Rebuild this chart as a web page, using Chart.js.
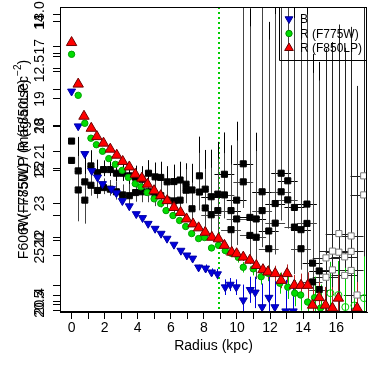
<!DOCTYPE html>
<html>
<head>
<meta charset="utf-8">
<script src="https://cdn.jsdelivr.net/npm/chart.js@4.4.0/dist/chart.umd.min.js"></script>
<style>
  html, body { margin: 0; padding: 0; background: #fff; }
</style>
</head>
<body>
<canvas id="chart" width="374" height="374"></canvas>
<script>
// ---- data (radius in kpc, surface brightness in mag) ----
const blueR = [0.00,0.40,0.80,1.22,1.57,1.87,2.41,2.71,3.07,3.49,3.91,4.29,4.63,5.05,5.41,5.77,6.19,6.61,6.97,7.32,7.68,8.10,8.46,8.82,9.29,9.59,9.96,10.38,10.80,11.10,11.52,11.93,12.29,12.95,13.40];
const blueMag = [18.71,20.04,21.10,21.75,22.00,22.25,22.44,22.60,22.90,23.10,23.40,23.55,23.77,23.96,24.15,24.34,24.57,24.80,24.98,25.10,25.44,25.48,25.63,25.70,26.20,26.10,26.20,26.70,26.30,26.40,26.96,26.60,26.96,27.12,27.12];
const blueErr = [0.05,0.05,0.05,0.05,0.05,0.05,0.05,0.05,0.05,0.05,0.05,0.05,0.05,0.05,0.05,0.05,0.05,0.05,0.05,0.05,0.1,0.15,0.15,0.2,0.3,0.25,0.3,0.6,0.5,0.6,0.9,0.8,1.0,1.2,1.2];

const greenR = [0.00,0.40,0.80,1.17,1.50,1.87,2.25,2.65,3.06,3.43,3.85,4.19,4.57,4.99,5.39,5.71,6.13,6.53,6.90,7.26,7.68,8.04,8.46,8.88,9.29,9.65,10.08,10.38,10.98,11.46,11.88,12.59,13.07,13.49,13.85,14.27,14.69,15.05];
const greenMag = [17.29,18.86,19.93,20.50,20.75,21.00,21.28,21.50,21.73,22.00,22.24,22.36,22.58,22.82,23.00,23.27,23.46,23.65,23.88,24.15,24.34,24.30,24.70,24.60,24.80,24.90,25.06,25.44,25.50,25.80,25.67,26.05,26.20,26.43,26.50,26.77,26.60,27.00];
const greenErr = [0.04,0.04,0.04,0.04,0.04,0.04,0.04,0.04,0.04,0.04,0.04,0.04,0.04,0.04,0.04,0.04,0.04,0.04,0.04,0.04,0.04,0.1,0.1,0.12,0.15,0.15,0.2,0.2,0.25,0.3,0.3,0.4,0.45,0.5,0.6,0.7,0.8,0.9];
const greenOpenR = [15.65,16.13,16.55,17.10,17.68];
const greenOpenMag = [26.43,26.50,26.96,26.90,26.62];
const greenOpenErr = [1.2,1.3,1.5,1.4,1.6];

const redR = [0.00,0.40,0.75,1.19,1.53,1.93,2.34,2.73,3.09,3.49,3.85,4.25,4.59,4.99,5.39,5.78,6.19,6.59,6.95,7.34,7.68,8.08,8.48,8.88,9.24,9.68,9.98,10.38,10.78,11.17,11.57,11.87,12.31,12.67,13.03,13.47,13.87,14.27,14.57,14.97,15.35,15.77,16.13,17.26];
const redMag = [16.84,18.43,19.66,20.12,20.44,20.69,20.92,21.15,21.39,21.60,21.88,22.03,22.26,22.51,22.70,22.89,23.15,23.34,23.59,23.78,23.93,24.10,24.29,24.35,24.60,24.86,24.92,25.05,25.17,25.37,25.53,25.62,25.68,25.94,25.68,26.13,26.13,26.13,26.89,26.60,26.89,27.00,26.62,27.00];
const redErr = [0.03,0.03,0.03,0.03,0.03,0.03,0.03,0.03,0.03,0.03,0.03,0.03,0.03,0.03,0.03,0.03,0.03,0.03,0.03,0.03,0.03,0.08,0.08,0.1,0.1,0.12,0.12,0.15,0.15,0.2,0.2,0.25,0.3,0.3,0.35,0.4,0.45,0.5,0.6,0.6,0.7,0.8,0.9,1.0];

const blackR = [0.00,0.40,0.80,1.17,1.56,1.93,2.34,2.71,3.09,3.49,3.87,4.25,4.65,5.05,5.39,5.78,6.19,6.56,6.92,7.28,7.73,8.08,8.44,8.84,9.24,9.64,9.98,10.38,10.78,11.16,11.52,11.92,12.31,12.67,13.07,13.47,13.87,14.23,14.57,14.97];
const blackUpper = [20.61,21.75,22.17,21.56,21.82,21.70,21.70,21.84,21.84,21.94,22.00,22.07,21.84,21.98,22.00,22.17,22.16,22.10,22.26,22.48,21.94,22.45,22.74,22.64,21.88,23.27,22.87,21.48,23.53,23.59,22.55,24.05,23.00,21.84,22.13,23.15,24.00,23.02,25.28,25.58];
const blackLower = [21.35,22.48,22.87,22.30,22.50,22.39,22.45,22.55,22.67,22.70,22.58,22.55,22.55,22.70,22.70,22.87,22.90,22.87,22.49,23.20,22.56,23.17,23.43,23.27,22.67,24.00,23.59,22.17,24.22,24.29,23.27,24.73,23.75,22.55,22.86,23.90,24.73,23.76,26.00,26.29];
const blackErrUp = [0.1,1.3,1.0,0.6,0.5,0.35,0.35,0.4,0.4,0.45,0.45,0.5,0.5,0.55,0.6,0.6,0.65,0.7,0.8,1.0,1.5,1.5,1.8,2.0,1.6,2.5,3.0,8,8,3.3,8,8,8,8,8,8,8,8,8,8];
const blackErrDown = [0.1,1.2,0.9,0.4,0.3,0.25,0.25,0.3,0.3,0.35,0.35,0.4,0.4,0.4,0.45,0.45,0.5,0.5,0.5,0.6,0.7,0.7,0.8,0.9,0.9,1.0,1.0,1.0,1.0,1.6,1.4,1.5,1.2,1.1,1.1,1.8,0.8,2.5,4.0,4.0];
const blackXErr = [0,0.2,0.2,0.2,0.2,0.2,0.2,0.2,0.2,0.2,0.2,0.2,0.2,0.2,0.2,0.2,0.2,0.2,0.2,0.2,0.2,0.2,0.6,0.6,0.6,0.6,0.6,0.6,0.6,0.6,0.6,0.6,0.6,0.6,0.6,0.6,0.6,0.6,0.6,0.6];

const openR = [15.38,15.38,15.77,15.77,16.16,16.16,16.51,16.51,16.90,16.90,16.90,17.26,17.66,17.66];
const openMag = [25.08,25.82,24.82,25.54,24.15,24.86,25.04,25.75,24.24,24.83,25.56,26.50,21.94,22.67];
const openErrUp = [8,8,8,8,8,8,8,8,8,8,8,8,8,8];
const openErrDown = [3,3,3,3,3,3,3,3,3,3,3,3,3,3];
const openXErr = [0.8,0.8,0.8,0.8,0.8,0.8,0.8,0.8,0.75,0.75,0.75,0.8,0.8,0.8];

const cutRadius = 8.9;

// axis ticks and labels
const xTicks = [0,1,2,3,4,5,6,7,8,9,10,11,12,13,14,15,16,17];
const yTicks = [17,19,21,23,25];
const yExtraLabels = ['13.0','14','12.5','18','20','22','15','12','20','20.5','20.4'];
const yExtraPos = [15.78,16.05,17.84,20.00,20.04,21.66,21.75,24.30,24.40,26.85,26.75];
const yMinorTicks = [17.27,17.38,17.95,18.63,23.46,26.13,26.50,27.08];
const legendLabels = ['B','R (F775W)','R (F850LP)'];

const FONT = "'Liberation Sans', Arial, Helvetica, sans-serif";
const BLUE = '#0000dd';
const GREEN = '#00dd00';
const RED = '#ff0000';

function pts(xs, ys) {
  return xs.map((x, i) => ({ x: x, y: ys[i] }));
}

// error bars and the dotted cut line, drawn under the points
const errorBars = {
  id: 'errorBars',
  beforeDatasetsDraw(chart) {
    const { ctx, chartArea: a, scales: { x, y } } = chart;
    ctx.save();
    ctx.beginPath();
    ctx.rect(a.left, a.top, a.right - a.left, a.bottom - a.top);
    ctx.clip();

    // dotted green line
    const cx = Math.round(x.getPixelForValue(cutRadius));
    ctx.strokeStyle = '#00cc00';
    ctx.lineWidth = 2;
    ctx.setLineDash([2, 3]);
    ctx.beginPath();
    ctx.moveTo(cx, a.top);
    ctx.lineTo(cx, a.bottom);
    ctx.stroke();
    ctx.setLineDash([]);

    chart.data.datasets.forEach(ds => {
      if (!ds.errUp) return;
      ctx.strokeStyle = ds.errColor;
      ctx.lineWidth = 1;
      ds.data.forEach((p, i) => {
        const px = Math.round(x.getPixelForValue(p.x)) + 0.5;
        ctx.beginPath();
        ctx.moveTo(px, y.getPixelForValue(p.y - ds.errUp[i]));
        ctx.lineTo(px, y.getPixelForValue(p.y + ds.errDown[i]));
        if (ds.errX && ds.errX[i]) {
          const py = Math.round(y.getPixelForValue(p.y)) + 0.5;
          ctx.moveTo(x.getPixelForValue(p.x - ds.errX[i]), py);
          ctx.lineTo(x.getPixelForValue(p.x + ds.errX[i]), py);
        }
        ctx.stroke();
      });
    });
    ctx.restore();
  },
  afterDraw(chart) {
    const { ctx, chartArea: a, scales: { y } } = chart;
    ctx.save();
    ctx.strokeStyle = '#000';
    ctx.lineWidth = 1;
    // frame
    ctx.strokeRect(a.left + 0.5, a.top + 0.5, a.right - a.left - 1, a.bottom - a.top - 1);

    // legend box in the top right corner
    const lx = a.right - 88, ly = a.top;
    ctx.beginPath();
    ctx.moveTo(lx + 0.5, ly);
    ctx.lineTo(lx + 0.5, ly + 53.5);
    ctx.lineTo(a.right, ly + 53.5);
    ctx.stroke();
    const styles = [
      { pointStyle: 'triangle', rotation: 180, radius: 4.5, fill: BLUE, stroke: '#000088' },
      { pointStyle: 'circle', rotation: 0, radius: 3.2, fill: GREEN, stroke: '#008800' },
      { pointStyle: 'triangle', rotation: 0, radius: 5, fill: RED, stroke: '#660000' }
    ];
    ctx.font = '12px ' + FONT;
    ctx.textBaseline = 'middle';
    ctx.textAlign = 'left';
    legendLabels.forEach((t, i) => {
      const ry = ly + 12 + i * 14.5;
      ctx.fillStyle = styles[i].fill;
      ctx.strokeStyle = styles[i].stroke;
      ctx.lineWidth = 1;
      Chart.helpers.drawPoint(ctx, { pointStyle: styles[i].pointStyle, rotation: styles[i].rotation, radius: styles[i].radius, borderWidth: 1 }, lx + 10, ry);
      ctx.fillStyle = '#000';
      ctx.fillText(t, lx + 21, ry + 1);
    });

    // rotated y tick labels (overlapping sets)
    ctx.font = '14px ' + FONT;
    ctx.textAlign = 'center';
    ctx.textBaseline = 'alphabetic';
    ctx.fillStyle = '#000';
    const drawRot = (text, py) => {
      ctx.save();
      ctx.translate(44, py);
      ctx.rotate(-Math.PI / 2);
      ctx.fillText(text, 0, 0);
      ctx.restore();
    };
    yTicks.forEach(v => drawRot(String(v), y.getPixelForValue(v)));
    yExtraLabels.forEach((t, i) => drawRot(t, y.getPixelForValue(yExtraPos[i])));

    // overlapping y titles
    const cy = (a.top + a.bottom) / 2 + 0;
    ctx.save();
    ctx.translate(28, cy);
    ctx.rotate(-Math.PI / 2);
    const base = 'F606W\u2212F850LP (mag/arcsec';
    ctx.font = '14px ' + FONT;
    const wBase = ctx.measureText(base).width;
    ctx.font = '10px ' + FONT;
    const wSup = ctx.measureText('\u22122').width;
    ctx.font = '14px ' + FONT;
    const wTail = ctx.measureText(')').width;
    const total = wBase + wSup + wTail;
    const sx = -total / 2;
    ctx.textAlign = 'left';
    ctx.fillText(base, sx, 0);
    ctx.font = '10px ' + FONT;
    ctx.fillText('\u22122', sx + wBase, -7);
    ctx.font = '14px ' + FONT;
    ctx.fillText(')', sx + wBase + wSup, 0);
    ctx.textAlign = 'center';
    ctx.fillText('R (F775W) / R (F850LP)', 4, 0);
    ctx.restore();

    ctx.restore();
  }
};

const ctx = document.getElementById('chart').getContext('2d');

new Chart(ctx, {
  type: 'scatter',
  data: {
    datasets: [
      {
        label: 'black upper',
        data: pts(blackR, blackUpper),
        pointStyle: 'rect', pointRadius: 4.3, backgroundColor: '#000', borderColor: '#000', borderWidth: 1,
        errUp: blackErrUp, errDown: blackErrDown, errX: blackXErr, errColor: '#000',
        order: 4
      },
      {
        label: 'black lower',
        data: pts(blackR, blackLower),
        pointStyle: 'rect', pointRadius: 4.3, backgroundColor: '#000', borderColor: '#000', borderWidth: 1,
        errUp: blackErrUp, errDown: blackErrDown, errX: blackXErr, errColor: '#444',
        order: 4
      },
      {
        label: 'open',
        data: pts(openR, openMag),
        pointStyle: 'rect', pointRadius: 4.3, backgroundColor: '#fff', borderColor: '#777', borderWidth: 1,
        errUp: openErrUp, errDown: openErrDown, errX: openXErr, errColor: '#222',
        order: 5
      },
      {
        label: 'B',
        data: pts(blueR, blueMag),
        pointStyle: 'triangle', rotation: 180, pointRadius: 4.6, backgroundColor: BLUE, borderColor: '#0000aa', borderWidth: 1,
        errUp: blueErr, errDown: blueErr, errColor: BLUE,
        order: 3
      },
      {
        label: 'R (F775W)',
        data: pts(greenR, greenMag),
        pointStyle: 'circle', pointRadius: 3.2, backgroundColor: GREEN, borderColor: '#00a000', borderWidth: 1,
        errUp: greenErr, errDown: greenErr, errColor: '#00cc00',
        order: 2
      },
      {
        label: 'R (F775W) faint',
        data: pts(greenOpenR, greenOpenMag),
        pointStyle: 'circle', pointRadius: 3.5, backgroundColor: 'rgba(255,255,255,0)', borderColor: '#00cc00', borderWidth: 1,
        errUp: greenOpenErr, errDown: greenOpenErr, errColor: '#00cc00',
        order: 2
      },
      {
        label: 'R (F850LP)',
        data: pts(redR, redMag),
        pointStyle: 'triangle', pointRadius: 6, backgroundColor: RED, borderColor: '#700000', borderWidth: 1,
        errUp: redErr, errDown: redErr, errColor: '#b22222',
        order: 1
      }
    ]
  },
  options: {
    responsive: false,
    animation: false,
    devicePixelRatio: 1,
    layout: { padding: { left: 0, right: 4, top: 5, bottom: 0 } },
    plugins: {
      legend: { display: false },
      tooltip: { enabled: false }
    },
    scales: {
      x: {
        type: 'linear',
        min: -0.7,
        max: 17.86,
        afterBuildTicks: s => { s.ticks = xTicks.map(v => ({ value: v })); },
        afterFit: s => { s.height = 62; },
        ticks: {
          autoSkip: false,
          maxRotation: 0,
          padding: 1,
          color: '#000',
          font: { family: FONT, size: 14 },
          callback: v => (v % 2 === 0 ? String(v) : '')
        },
        grid: { drawOnChartArea: false, tickLength: 7, color: '#000' },
        border: { display: true, color: '#000' },
        title: {
          display: true,
          text: 'Radius (kpc)',
          color: '#000',
          font: { family: FONT, size: 14 },
          padding: { top: 0, bottom: 19 }
        }
      },
      y: {
        type: 'linear',
        reverse: true,
        min: 15.48,
        max: 27.15,
        afterBuildTicks: s => { s.ticks = yTicks.concat(yExtraPos, yMinorTicks).map(v => ({ value: v })); },
        afterFit: s => { s.width = 60; },
        ticks: { display: false },
        grid: { drawOnChartArea: false, tickLength: 7, color: '#000' },
        border: { display: true, color: '#000' }
      }
    }
  },
  plugins: [errorBars]
});
</script>
</body>
</html>
